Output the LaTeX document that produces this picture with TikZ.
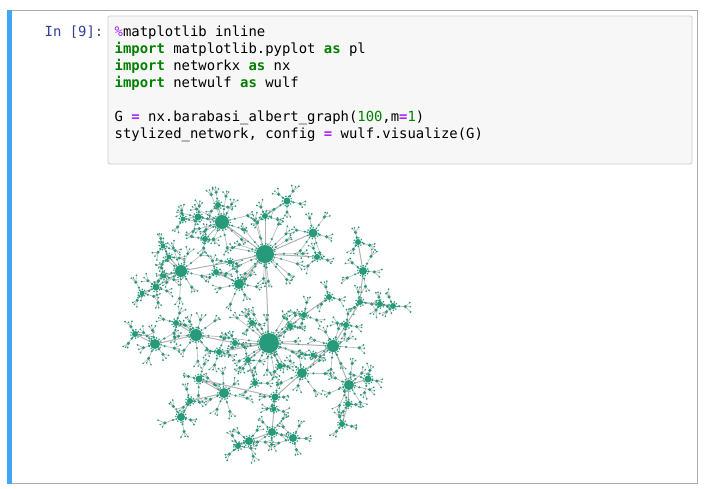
\documentclass[tikz,border=0pt]{standalone}
\usepackage{fontspec}
\setmonofont{DejaVu Sans Mono}
\definecolor{nodec}{RGB}{38,154,122}
\definecolor{edgec}{RGB}{188,188,188}
\definecolor{bbc}{RGB}{178,178,178}
\definecolor{prompt}{RGB}{48,63,159}
\definecolor{kw}{RGB}{0,128,0}
\definecolor{op}{RGB}{170,34,255}
\definecolor{jblue}{RGB}{66,165,245}
\definecolor{codebg}{RGB}{247,247,247}
\definecolor{codebd}{RGB}{207,207,207}
\definecolor{cellbd}{RGB}{171,171,171}
\newcommand\kwd[1]{\textcolor{kw}{\bfseries #1}}
\newcommand\opr[1]{\textcolor{op}{\bfseries #1}}
\newcommand\numb[1]{\textcolor{kw}{#1}}
\newif\ifdotpass
\tikzset{
  hubnode/.style={circle, fill=nodec, draw=none, inner sep=0pt},
  leafedge/.style={draw=edgec, line width=0.7pt},
  bbedge/.style={draw=bbc, line width=1pt},
  codeline/.style={anchor=base west, inner sep=0pt, font=\ttfamily\fontsize{13.9}{17}\selectfont},
}
\newcommand\mkhub[7]{% name x y r nspokes len nfringe
  \ifdotpass
    \node[hubnode, minimum size={2*#4pt}] (#1) at (#2,#3) {};
  \else
    \coordinate (#1) at (#2,#3);
  \fi
  \foreach \i in {1,...,#7}{%
    \pgfmathsetmacro\fa{\i*360/#7+rnd*8}%
    \ifdotpass\fill[nodec] (#2,#3) ++(\fa:#4+1.2) circle (0.85);\fi
  }%
  \foreach \k in {1,...,#5}{%
    \pgfmathsetmacro\sa{\k*360/#5+rnd*22}%
    \pgfmathsetmacro\sl{#6*(0.6+0.5*rnd)}%
    \pgfmathsetmacro\ta{\sa-18-rnd*28}%
    \pgfmathsetmacro\tb{\sa+18+rnd*28}%
    \pgfmathsetmacro\tl{4+4*rnd}%
    \pgfmathsetmacro\tm{4+4*rnd}%
    \ifdotpass
      \fill[nodec] (#2,#3) ++(\sa:\sl*0.5) circle (1.2);
      \fill[nodec] (#2,#3) ++(\sa:\sl) circle (1.7);
      \fill[nodec] (#2,#3) ++(\sa:\sl) ++(\ta:\tl) circle (0.95);
      \fill[nodec] (#2,#3) ++(\sa:\sl) ++(\tb:\tm) circle (0.95);
      \fill[nodec] (#2,#3) ++(\sa:\sl) ++(\sa:5) circle (0.85);
    \else
      \draw[leafedge] (#2,#3) -- ++(\sa:\sl) -- ++(\ta:\tl);
      \draw[leafedge] (#2,#3) ++(\sa:\sl) -- ++(\tb:\tm);
      \draw[leafedge] (#2,#3) ++(\sa:\sl) -- ++(\sa:5);
    \fi
  }%
}
\newcommand\hublist{%
\mkhub{n1}{269}{343}{10}{18}{38}{26}
\mkhub{n2}{265}{254}{9}{17}{38}{24}
\mkhub{n3}{222}{222}{7}{11}{28}{18}
\mkhub{n4}{181}{271}{6}{9}{26}{16}
\mkhub{n5}{196}{335}{6}{9}{24}{16}
\mkhub{n6}{155}{344}{5}{7}{20}{14}
\mkhub{n7}{333}{346}{6}{8}{24}{16}
\mkhub{n8}{302}{373}{5}{7}{22}{14}
\mkhub{n9}{349}{385}{5}{7}{22}{14}
\mkhub{n10}{224}{393}{5}{7}{22}{14}
\mkhub{n11}{239}{284}{5}{7}{20}{14}
\mkhub{n12}{181}{417}{4}{5}{16}{12}
\mkhub{n13}{272}{432}{4}{5}{16}{12}
\mkhub{n14}{249}{441}{4}{5}{16}{12}
\mkhub{n15}{293}{438}{4}{5}{16}{12}
\mkhub{n16}{313}{233}{4.5}{6}{20}{12}
\mkhub{n17}{363}{271}{4}{5}{16}{12}
\mkhub{n18}{287}{201}{3.5}{5}{16}{10}
\mkhub{n19}{346}{325}{3}{4}{12}{9}
\mkhub{n20}{199}{379}{3.5}{4}{16}{10}
\mkhub{n21}{198}{217}{3.5}{4}{16}{10}
\mkhub{n22}{360}{302}{3}{3}{12}{9}
\mkhub{n23}{380}{304}{3}{3}{10}{9}
\mkhub{n24}{393}{306}{3}{3}{12}{9}
\mkhub{n25}{275}{397}{3.5}{4}{12}{10}
\mkhub{n26}{156}{287}{3.5}{5}{16}{10}
\mkhub{n27}{219}{352}{3}{4}{14}{9}
\mkhub{n28}{235}{343}{3}{3}{12}{9}
\mkhub{n29}{304}{315}{3}{4}{14}{9}
\mkhub{n30}{290}{326}{3}{3}{12}{9}
\mkhub{n31}{205}{239}{3}{4}{14}{9}
\mkhub{n32}{176}{323}{3}{4}{14}{9}
\mkhub{n33}{218}{205}{3}{3}{12}{9}
\mkhub{n34}{135}{334}{3}{3}{12}{9}
\mkhub{n35}{342}{424}{3}{3}{12}{9}
\mkhub{n36}{348}{404}{3}{3}{12}{9}
\mkhub{n37}{368}{379}{3.5}{4}{14}{10}
\mkhub{n38}{255}{383}{3}{3}{12}{9}
\mkhub{n39}{248}{360}{3}{3}{12}{9}
\mkhub{n40}{358}{242}{3}{3}{12}{9}
\mkhub{n41}{317}{257}{3}{3}{12}{9}
\mkhub{n42}{329}{297}{3}{3}{12}{9}
\mkhub{n43}{230}{262}{2.5}{2}{10}{8}
\mkhub{n44}{216}{272}{3}{3}{12}{9}
\mkhub{n45}{252}{323}{3}{3}{12}{9}
\mkhub{n46}{280}{366}{3}{3}{12}{9}
\mkhub{n47}{190}{401}{3}{3}{12}{9}
\mkhub{n48}{238}{446}{3}{3}{12}{9}
\mkhub{n49}{265}{216}{3}{3}{12}{9}
\mkhub{n50}{164}{276}{2.5}{3}{12}{8}
\mkhub{n51}{169}{257}{2.5}{3}{12}{8}
\mkhub{n53}{142}{293}{2.5}{3}{12}{8}
\mkhub{n54}{163}{246}{2.5}{3}{12}{8}
\mkhub{n55}{183}{219}{2.5}{3}{12}{8}
\mkhub{n56}{313}{355}{2.5}{2}{10}{8}
\mkhub{n57}{274}{409}{2.5}{2}{10}{8}
}
\begin{document}
\begin{tikzpicture}[x=1pt,y=-1pt]
\useasboundingbox (0,0) rectangle (710,488);
\fill[white] (0,0) rectangle (710,488);
% cell frame
\draw[cellbd, line width=1pt] (7,10) rectangle (697,483.5);
\fill[jblue] (7,9.5) rectangle (12.3,484);
\draw[codebd, fill=codebg, line width=0.9pt, rounded corners=1.5pt] (108,16) rectangle (692,164);
\node[codeline, text=prompt] (prm) at (44.5,36.5) {In [9]:};
\node[codeline] (l1) at (114.5,36.5) {\textcolor{op}{\%}matplotlib inline};
\node[codeline] (l2) at (114.5,53.5) {\kwd{import} matplotlib.pyplot \kwd{as} pl};
\node[codeline] (l3) at (114.5,70.5) {\kwd{import} networkx \kwd{as} nx};
\node[codeline] (l4) at (114.5,87.5) {\kwd{import} netwulf \kwd{as} wulf};
\node[codeline] (l5) at (114.5,121.5) {G \opr{=} nx.barabasi\_albert\_graph(\numb{100},m\opr{=}\numb{1})};
\node[codeline] (l6) at (114.5,138.5) {stylized\_network, config \opr{=} wulf.visualize(G)};
% network: pass 1 = edges
\dotpassfalse
\pgfmathsetseed{4711}
\hublist
\foreach \a/\b in {n1/n2,n2/n3,n2/n16,n2/n49,n49/n18,n2/n41,n2/n43,n43/n4,n2/n11,
  n3/n33,n3/n21,n3/n31,n21/n55,n4/n26,n4/n50,n4/n51,n51/n54,n26/n53,n1/n28,n28/n5,
  n5/n6,n5/n32,n6/n34,n1/n7,n7/n19,n19/n22,n22/n23,n23/n24,n22/n17,n17/n40,n7/n9,
  n9/n37,n9/n36,n36/n35,n7/n8,n8/n25,n25/n57,n57/n13,n13/n14,n13/n15,n14/n48,
  n25/n20,n20/n10,n10/n47,n47/n12,n1/n46,n1/n39,n39/n38,n1/n27,n1/n45,n1/n30,
  n30/n29,n29/n42,n11/n44,n7/n56}
  \draw[bbedge] (\a) -- (\b);
% pass 2 = nodes
\dotpasstrue
\pgfmathsetseed{4711}
\hublist
\end{tikzpicture}
\end{document}
